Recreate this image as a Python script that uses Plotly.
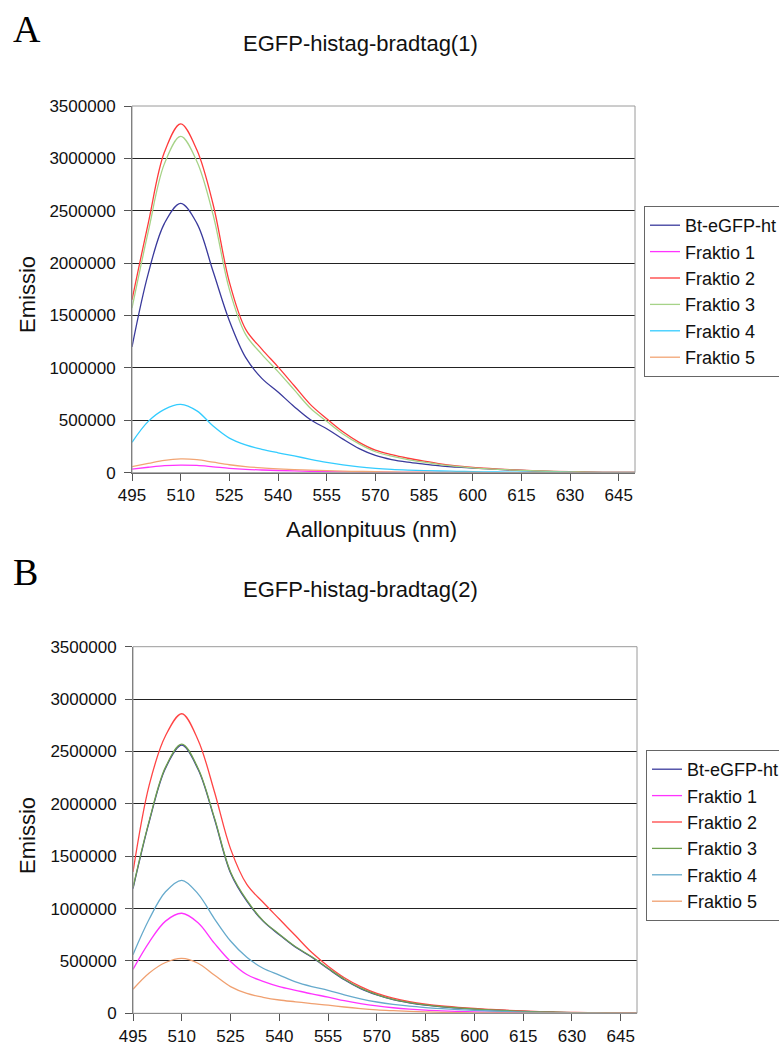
import plotly.graph_objects as go

W, H = 779, 1045

wavelength = list(range(495, 651, 5))
x_ticks = list(range(495, 646, 15))
y_ticks = [0, 500000, 1000000, 1500000, 2000000, 2500000, 3000000, 3500000]
y_tick_labels = [str(v) for v in y_ticks]

series_names = ["Bt-eGFP-ht", "Fraktio 1", "Fraktio 2", "Fraktio 3", "Fraktio 4", "Fraktio 5"]

# ---- Chart A: EGFP-histag-bradtag(1)
a_bt = [1200000, 1900000, 2380000, 2570000, 2380000, 1920000, 1450000, 1100000, 900000, 770000,
        630000, 505000, 420000, 320000, 230000, 165000, 125000, 100000, 82000, 65000,
        54000, 44000, 36000, 28000, 21000, 15000, 11000, 8000, 5500, 3800, 2800, 2000]
a_f1 = [35000, 52000, 67000, 73000, 69000, 56000, 42000, 32000, 26000, 21000,
        17000, 14000, 11000, 8500, 6500, 5000, 4000, 3200, 2500, 2000,
        1600, 1200, 1000, 800, 600, 500, 400, 300, 250, 200, 150, 120]
a_f2 = [1650000, 2380000, 3060000, 3330000, 3080000, 2560000, 1820000, 1370000, 1180000, 1010000,
        830000, 650000, 515000, 390000, 290000, 215000, 172000, 138000, 110000, 85000,
        66000, 51000, 40000, 31000, 24000, 18000, 13000, 9000, 6000, 4000, 3000, 2000]
a_f3 = [1570000, 2300000, 2950000, 3210000, 2970000, 2460000, 1750000, 1320000, 1130000, 965000,
        790000, 615000, 490000, 370000, 275000, 200000, 158000, 125000, 100000, 78000,
        61000, 47000, 37000, 29000, 22000, 16000, 12000, 8000, 5500, 3800, 2800, 2000]
a_f4 = [290000, 490000, 605000, 652000, 590000, 445000, 330000, 265000, 223000, 190000,
        160000, 128000, 99000, 75000, 56000, 42000, 32000, 25000, 20000, 16000,
        13000, 10000, 8000, 6000, 4500, 3300, 2500, 1800, 1300, 1000, 800, 600]
a_f5 = [57000, 88000, 118000, 131000, 124000, 100000, 76000, 58000, 46000, 37000,
        30000, 24000, 19000, 15000, 12000, 9000, 7000, 5500, 4200, 3300,
        2600, 2000, 1600, 1300, 1000, 800, 600, 500, 400, 300, 250, 200]

# ---- Chart B: EGFP-histag-bradtag(2)
b_bt = [1190000, 1830000, 2340000, 2560000, 2330000, 1860000, 1340000, 1070000, 880000, 750000,
        630000, 535000, 425000, 320000, 235000, 175000, 130000, 100000, 78000, 62000,
        50000, 40000, 32000, 25000, 18000, 13000, 9500, 7000, 5000, 3500, 2500, 1800]
b_f1 = [420000, 680000, 880000, 955000, 865000, 670000, 495000, 370000, 305000, 255000,
        220000, 185000, 155000, 120000, 92000, 70000, 53000, 40000, 30000, 23000,
        18000, 14000, 11000, 8000, 6000, 4500, 3300, 2500, 1800, 1300, 1000, 800]
b_f2 = [1350000, 2180000, 2650000, 2860000, 2610000, 2120000, 1570000, 1230000, 1060000, 900000,
        740000, 580000, 450000, 340000, 255000, 190000, 145000, 112000, 88000, 70000,
        57000, 46000, 37000, 29000, 22000, 16000, 11000, 8000, 5500, 3800, 2700, 2000]
b_f3 = [1200000, 1840000, 2350000, 2570000, 2340000, 1870000, 1350000, 1080000, 885000, 755000,
        635000, 540000, 430000, 325000, 240000, 178000, 132000, 102000, 80000, 63000,
        51000, 41000, 33000, 25000, 18500, 13500, 9800, 7200, 5200, 3600, 2600, 1900]
b_f4 = [560000, 900000, 1160000, 1270000, 1140000, 905000, 690000, 535000, 430000, 365000,
        300000, 255000, 220000, 175000, 138000, 108000, 85000, 68000, 55000, 44000,
        35000, 28000, 22000, 17000, 12000, 9000, 6500, 5000, 3500, 2500, 1800, 1200]
b_f5 = [230000, 385000, 485000, 525000, 478000, 365000, 255000, 190000, 153000, 127000,
        110000, 93000, 78000, 60000, 45000, 33000, 25000, 18000, 13000, 9500,
        7000, 5000, 3800, 2800, 2000, 1500, 1100, 800, 600, 450, 350, 250]

colors_a = ["#3a3a9c", "#ff33ff", "#ff3b3b", "#a6d388", "#33ccff", "#f2a574"]
colors_b = ["#3a3a9c", "#ff33ff", "#ff4545", "#6fa04f", "#66aacc", "#f0a070"]

FONT = "Liberation Sans, Arial, sans-serif"


def px(x):
    return x / W


def py(y):
    return 1 - y / H


fig = go.Figure()

for name, vals, col in zip(series_names, [a_bt, a_f1, a_f2, a_f3, a_f4, a_f5], colors_a):
    fig.add_trace(go.Scatter(x=wavelength, y=vals, name=name, mode="lines",
                             line=dict(color=col, width=1.3, shape="spline", smoothing=1.0),
                             xaxis="x", yaxis="y", legend="legend"))

for name, vals, col in zip(series_names, [b_bt, b_f1, b_f2, b_f3, b_f4, b_f5], colors_b):
    fig.add_trace(go.Scatter(x=wavelength, y=vals, name=name, mode="lines",
                             line=dict(color=col, width=1.3, shape="spline", smoothing=1.0),
                             xaxis="x2", yaxis="y2", legend="legend2"))

xaxis_common = dict(range=[495, 650], tickvals=x_ticks, ticktext=[str(t) for t in x_ticks],
                    ticks="outside", ticklen=7, tickcolor="#555555", tickwidth=1,
                    showgrid=False, zeroline=False, showline=True, linecolor="#666666",
                    tickfont=dict(family=FONT, size=17, color="#111111"), fixedrange=True,
                    automargin=False)
yaxis_common = dict(range=[0, 3500000], tickvals=y_ticks, ticktext=y_tick_labels,
                    ticks="outside", ticklen=7, tickcolor="#555555", tickwidth=1,
                    showgrid=True, gridcolor="#222222", gridwidth=1, zeroline=False,
                    showline=True, linecolor="#666666", ticklabelstandoff=5,
                    tickfont=dict(family=FONT, size=17, color="#111111"), fixedrange=True,
                    automargin=False)

legend_common = dict(font=dict(family=FONT, size=18, color="#111111"), bgcolor="white",
                     bordercolor="#666666", borderwidth=1, xanchor="left", yanchor="top",
                     tracegroupgap=0)

fig.update_layout(
    width=W, height=H, margin=dict(l=0, r=0, t=0, b=0, autoexpand=False),
    paper_bgcolor="white", plot_bgcolor="white", showlegend=True,
    xaxis=dict(domain=[px(132), px(635)], anchor="y", **xaxis_common),
    yaxis=dict(domain=[py(472.7), py(106)], anchor="x", **yaxis_common),
    xaxis2=dict(domain=[px(133), px(637)], anchor="y2", **xaxis_common),
    yaxis2=dict(domain=[py(1013.3), py(646.7)], anchor="x2", **yaxis_common),
    legend=dict(x=px(644), y=py(206), **legend_common),
    legend2=dict(x=px(646), y=py(750), **legend_common),
)

# plot-area borders (gray top/right edges)
for xr, yr in [("x domain", "y domain"), ("x2 domain", "y2 domain")]:
    fig.add_shape(type="rect", xref=xr, yref=yr, x0=0, x1=1, y0=0, y1=1,
                  line=dict(color="#9a9a9a", width=1), layer="above")

ann = []
ann.append(dict(text="A", x=px(11), y=py(6), xanchor="left", yanchor="top",
                font=dict(family="Liberation Serif, Times New Roman, serif", size=38, color="#000")))
ann.append(dict(text="B", x=px(11), y=py(549), xanchor="left", yanchor="top",
                font=dict(family="Liberation Serif, Times New Roman, serif", size=38, color="#000")))
ann.append(dict(text="EGFP-histag-bradtag(1)", x=px(360.5), y=py(43), xanchor="center", yanchor="middle",
                font=dict(family=FONT, size=22, color="#111")))
ann.append(dict(text="EGFP-histag-bradtag(2)", x=px(360.5), y=py(589), xanchor="center", yanchor="middle",
                font=dict(family=FONT, size=22, color="#111")))
ann.append(dict(text="Aallonpituus (nm)", x=px(371), y=py(529), xanchor="center", yanchor="middle",
                font=dict(family=FONT, size=22, color="#111")))
ann.append(dict(text="Emissio", x=px(27), y=py(295), xanchor="center", yanchor="middle", textangle=-90,
                font=dict(family=FONT, size=22, color="#111")))
ann.append(dict(text="Emissio", x=px(27), y=py(836), xanchor="center", yanchor="middle", textangle=-90,
                font=dict(family=FONT, size=22, color="#111")))
for a in ann:
    a.update(xref="paper", yref="paper", showarrow=False)
fig.update_layout(annotations=ann)

fig.write_html("out.html", config={"displayModeBar": False},
               post_script="document.body.style.margin='0';document.body.style.padding='0';")
